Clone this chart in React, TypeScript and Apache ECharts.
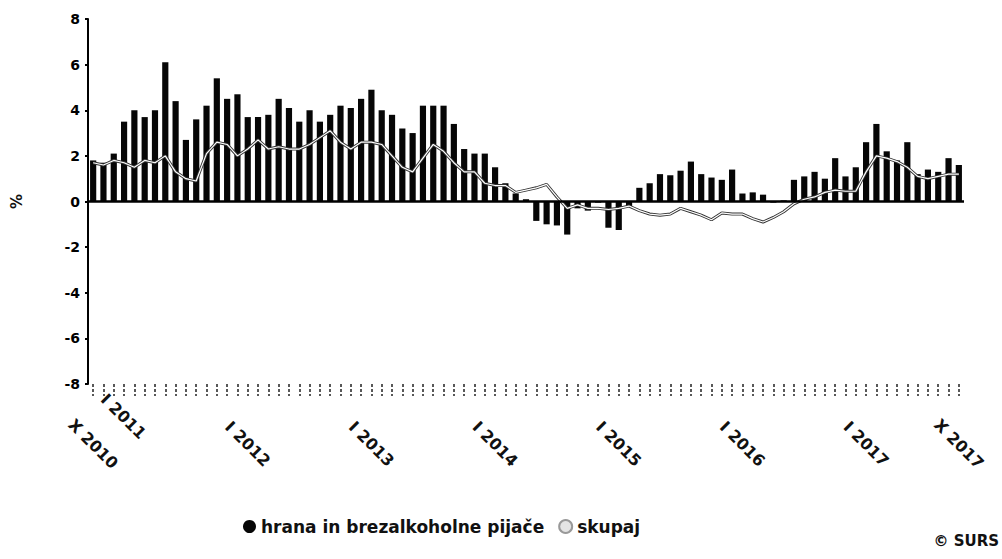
import React, { useEffect, useRef } from "react";
import * as echarts from "echarts";

const categories: string[] = [
  "X 2010", "XI 2010", "XII 2010",
  "I 2011", "II 2011", "III 2011", "IV 2011", "V 2011", "VI 2011", "VII 2011", "VIII 2011", "IX 2011", "X 2011", "XI 2011", "XII 2011",
  "I 2012", "II 2012", "III 2012", "IV 2012", "V 2012", "VI 2012", "VII 2012", "VIII 2012", "IX 2012", "X 2012", "XI 2012", "XII 2012",
  "I 2013", "II 2013", "III 2013", "IV 2013", "V 2013", "VI 2013", "VII 2013", "VIII 2013", "IX 2013", "X 2013", "XI 2013", "XII 2013",
  "I 2014", "II 2014", "III 2014", "IV 2014", "V 2014", "VI 2014", "VII 2014", "VIII 2014", "IX 2014", "X 2014", "XI 2014", "XII 2014",
  "I 2015", "II 2015", "III 2015", "IV 2015", "V 2015", "VI 2015", "VII 2015", "VIII 2015", "IX 2015", "X 2015", "XI 2015", "XII 2015",
  "I 2016", "II 2016", "III 2016", "IV 2016", "V 2016", "VI 2016", "VII 2016", "VIII 2016", "IX 2016", "X 2016", "XI 2016", "XII 2016",
  "I 2017", "II 2017", "III 2017", "IV 2017", "V 2017", "VI 2017", "VII 2017", "VIII 2017", "IX 2017", "X 2017",
];

const xTickLabels: string[] = [
  "X 2010", "I 2011", "I 2012", "I 2013", "I 2014", "I 2015", "I 2016", "I 2017", "X 2017",
];

// hrana in brezalkoholne pijače (bars)
const foodValues: number[] = [
  1.8, 1.7, 2.1,
  3.5, 4.0, 3.7, 4.0, 6.1, 4.4, 2.7, 3.6, 4.2, 5.4, 4.5, 4.7,
  3.7, 3.7, 3.8, 4.5, 4.1, 3.5, 4.0, 3.5, 3.8, 4.2, 4.1, 4.5,
  4.9, 4.0, 3.8, 3.2, 3.0, 4.2, 4.2, 4.2, 3.4, 2.3, 2.1, 2.1,
  1.5, 0.8, 0.35, 0.1, -0.85, -1.0, -1.05, -1.45, -0.3, -0.4, -0.05, -1.15,
  -1.25, -0.2, 0.6, 0.8, 1.2, 1.15, 1.35, 1.75, 1.2, 1.05, 0.95, 1.4,
  0.35, 0.4, 0.3, -0.05, 0.05, 0.95, 1.1, 1.3, 1.0, 1.9, 1.1, 1.5,
  2.6, 3.4, 2.2, 1.8, 2.6, 1.2, 1.4, 1.3, 1.9, 1.6,
];

// skupaj (line)
const totalValues: number[] = [
  1.7, 1.6, 1.8,
  1.7, 1.5, 1.8, 1.7, 2.0, 1.3, 1.0, 0.9, 2.1, 2.6, 2.5, 2.0,
  2.3, 2.7, 2.3, 2.4, 2.3, 2.3, 2.5, 2.8, 3.1, 2.6, 2.3, 2.6,
  2.6, 2.5, 2.0, 1.5, 1.3, 1.9, 2.5, 2.2, 1.7, 1.3, 1.3, 0.8,
  0.7, 0.7, 0.4, 0.5, 0.6, 0.75, 0.2, -0.3, -0.15, -0.3, -0.3, -0.35,
  -0.3, -0.2, -0.4, -0.55, -0.6, -0.55, -0.3, -0.45, -0.6, -0.8, -0.5, -0.55,
  -0.55, -0.75, -0.9, -0.7, -0.45, -0.1, 0.1, 0.2, 0.4, 0.5, 0.45, 0.45,
  1.3, 2.0, 1.9, 1.75, 1.5, 1.1, 1.0, 1.1, 1.2, 1.2,
];

const FONT = "DejaVu Sans";

export default function App() {
  const ref = useRef<HTMLDivElement | null>(null);

  useEffect(() => {
    document.body.style.margin = "0";
    if (!ref.current) return;
    const chart = echarts.init(ref.current, undefined, { renderer: "svg" });
    chart.setOption({
      animation: false,
      backgroundColor: "#ffffff",
      grid: { left: 88, right: 38, top: 19, bottom: 175, containLabel: false },
      legend: {
        left: 238,
        top: 513,
        itemWidth: 13,
        itemHeight: 13,
        itemGap: 14,
        textStyle: { fontFamily: FONT, fontWeight: "bold", fontSize: 17, color: "#111" },
        data: [
          { name: "hrana in brezalkoholne pijače", icon: "circle" },
          { name: "skupaj", icon: "circle" },
        ],
      },
      xAxis: {
        type: "category",
        data: categories,
        boundaryGap: true,
        axisLine: { show: false, onZero: false },
        axisTick: {
          show: true,
          interval: 0,
          alignWithLabel: true,
          length: 12,
          lineStyle: { color: "#222", width: 1.5, type: [3, 2] },
        },
        axisLabel: {
          interval: 0,
          rotate: -45,
          align: "center",
          verticalAlign: "middle",
          margin: 60,
          fontFamily: FONT,
          fontWeight: "bold",
          fontSize: 16,
          color: "#111",
          formatter: (v: string) => {
            if (!xTickLabels.includes(v)) return "";
            if (v === "I 2011") return "{b|" + v + "}";
            return v;
          },
          rich: {
            b: {
              fontFamily: FONT,
              fontWeight: "bold",
              fontSize: 16,
              color: "#111",
              padding: [0, 40, 38, 0],
            },
          },
        },
        splitLine: { show: false },
      },
      yAxis: {
        type: "value",
        min: -8,
        max: 8,
        interval: 2,
        name: "%",
        nameLocation: "middle",
        nameRotate: 90,
        nameGap: 64,
        nameTextStyle: { fontFamily: FONT, fontWeight: "bold", fontSize: 15, color: "#111" },
        axisLine: { show: true, lineStyle: { color: "#000", width: 2 } },
        axisTick: { show: true, length: 3, lineStyle: { color: "#000", width: 2 } },
        axisLabel: {
          margin: 8,
          fontFamily: FONT,
          fontWeight: "bold",
          fontSize: 14,
          color: "#000",
        },
        splitLine: { show: false },
      },
      series: [
        {
          name: "hrana in brezalkoholne pijače",
          type: "bar",
          data: foodValues,
          barWidth: "60%",
          itemStyle: { color: "#060606" },
          markLine: {
            silent: true,
            symbol: ["none", "none"],
            label: { show: false },
            lineStyle: { color: "#000", width: 2.5, type: "solid" },
            data: [{ yAxis: 0 }],
          },
          z: 2,
        },
        {
          name: "skupaj_outline",
          type: "line",
          data: totalValues,
          showSymbol: false,
          lineStyle: { color: "#333", width: 3 },
          itemStyle: { color: "#333" },
          z: 3,
        },
        {
          name: "skupaj",
          type: "line",
          data: totalValues,
          showSymbol: false,
          lineStyle: { color: "#ffffff", width: 1.2 },
          itemStyle: { color: "#e4e4e4", borderColor: "#999", borderWidth: 1, borderType: "dotted" },
          z: 4,
        },
      ],
      graphic: [
        {
          type: "text",
          right: 3,
          top: 533,
          style: {
            text: "© SURS",
            fontFamily: FONT,
            fontWeight: "bold",
            fontSize: 15,
            fill: "#111",
          },
        },
      ],
    });
    return () => chart.dispose();
  }, []);

  return <div ref={ref} style={{ width: 1002, height: 559 }} />;
}
